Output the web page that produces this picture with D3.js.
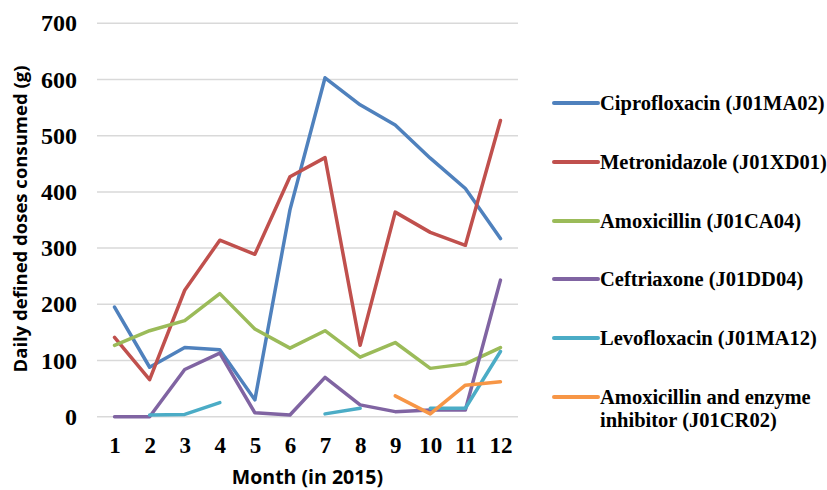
<!DOCTYPE html>
<html>
<head>
<meta charset="utf-8">
<script src="https://cdn.jsdelivr.net/npm/d3@7"></script>
<style>
  html, body { margin: 0; padding: 0; background: #ffffff; }
  svg { display: block; }
</style>
</head>
<body>
<svg id="chart" width="827" height="490"></svg>
<script>
// Monthly antibiotic consumption, 2015 (DDD, grams)
const months = [1, 2, 3, 4, 5, 6, 7, 8, 9, 10, 11, 12];
const yTicks = [0, 100, 200, 300, 400, 500, 600, 700];

const seriesNames = [
  "Ciprofloxacin (J01MA02)",
  "Metronidazole (J01XD01)",
  "Amoxicillin (J01CA04)",
  "Ceftriaxone (J01DD04)",
  "Levofloxacin (J01MA12)",
  "Amoxicillin and enzyme inhibitor (J01CR02)"
];
const legendLines = [
  ["Ciprofloxacin (J01MA02)"],
  ["Metronidazole (J01XD01)"],
  ["Amoxicillin (J01CA04)"],
  ["Ceftriaxone (J01DD04)"],
  ["Levofloxacin (J01MA12)"],
  ["Amoxicillin and enzyme", "inhibitor (J01CR02)"]
];
const seriesColors = ["#4F81BD", "#C0504D", "#9BBB59", "#8064A2", "#4BACC6", "#F79646"];

const ciprofloxacin = [195, 88, 123, 119, 30, 368, 603, 555, 519, 460, 406, 317];
const metronidazole = [141, 66, 225, 314, 289, 427, 461, 127, 364, 328, 305, 527];
const amoxicillin   = [127, 153, 171, 219, 156, 122, 153, 106, 132, 86, 94, 123];
const ceftriaxone   = [0, 0, 84, 113, 7, 3, 70, 21, 9, 12, 12, 243];
const levofloxacin  = [null, 3, 4, 25, null, null, 5, 15, null, 15, 15, 116];
const amoxEnzyme    = [null, null, null, null, null, null, null, null, 37, 5, 56, 62];

const seriesValues = [ciprofloxacin, metronidazole, amoxicillin, ceftriaxone, levofloxacin, amoxEnzyme];

const svg = d3.select("#chart");

const x = d3.scalePoint().domain(months).range([97, 518]).padding(0.5);
const y = d3.scaleLinear().domain([0, 700]).range([416.7, 23.3]);

// horizontal gridlines
svg.append("g")
  .selectAll("line")
  .data(yTicks)
  .join("line")
  .attr("x1", 97).attr("x2", 518)
  .attr("y1", d => y(d)).attr("y2", d => y(d))
  .attr("stroke", "#d9d9d9")
  .attr("stroke-width", 1.5);

// y-axis tick labels
const yAxis = d3.axisLeft(y).tickValues(yTicks).tickSize(0).tickPadding(0);
svg.append("g")
  .attr("transform", "translate(77,0)")
  .call(yAxis)
  .call(g => g.select(".domain").remove())
  .call(g => g.selectAll("text")
    .attr("font-family", "'Liberation Serif', 'Times New Roman', serif")
    .attr("font-weight", "bold")
    .attr("font-size", 24)
    .attr("fill", "#000"));

// x-axis tick labels
const xAxis = d3.axisBottom(x).tickSize(0).tickPadding(0);
svg.append("g")
  .attr("transform", "translate(0,437)")
  .call(xAxis)
  .call(g => g.select(".domain").remove())
  .call(g => g.selectAll("text")
    .attr("font-family", "'Liberation Serif', 'Times New Roman', serif")
    .attr("font-weight", "bold")
    .attr("font-size", 23)
    .attr("fill", "#000"));

// axis titles
svg.append("text")
  .attr("transform", "translate(27,219) rotate(-90)")
  .attr("text-anchor", "middle")
  .attr("font-family", "'Open Sans', sans-serif")
  .attr("font-weight", "bold")
  .attr("font-size", 18.5)
  .attr("fill", "#000")
  .text("Daily defined doses consumed (g)");

svg.append("text")
  .attr("x", 307.5)
  .attr("y", 484)
  .attr("text-anchor", "middle")
  .attr("font-family", "'Open Sans', sans-serif")
  .attr("font-weight", "bold")
  .attr("font-size", 19.5)
  .attr("fill", "#000")
  .text("Month (in 2015)");

// series lines
const line = d3.line()
  .defined(d => d.v != null)
  .x(d => x(d.m))
  .y(d => y(d.v));

svg.append("g")
  .selectAll("path")
  .data(seriesValues)
  .join("path")
  .attr("d", vals => line(vals.map((v, i) => ({ m: months[i], v }))))
  .attr("fill", "none")
  .attr("stroke", (d, i) => seriesColors[i])
  .attr("stroke-width", 3.5)
  .attr("stroke-linejoin", "round")
  .attr("stroke-linecap", "round");

// legend
const legendRowY = [103, 162, 221, 279, 338, 397];
const legend = svg.append("g")
  .selectAll("g")
  .data(seriesNames)
  .join("g")
  .attr("transform", (d, i) => `translate(0,${legendRowY[i]})`);

legend.append("line")
  .attr("x1", 554).attr("x2", 598)
  .attr("y1", 0).attr("y2", 0)
  .attr("stroke", (d, i) => seriesColors[i])
  .attr("stroke-width", 4)
  .attr("stroke-linecap", "round");

legend.append("text")
  .attr("x", 600)
  .attr("y", 7)
  .attr("font-family", "'Liberation Serif', 'Times New Roman', serif")
  .attr("font-weight", "bold")
  .attr("font-size", 20.5)
  .attr("fill", "#000")
  .selectAll("tspan")
  .data((d, i) => legendLines[i])
  .join("tspan")
  .attr("x", 600)
  .attr("dy", (d, j) => j === 0 ? 0 : 23)
  .text(d => d);
</script>
</body>
</html>
